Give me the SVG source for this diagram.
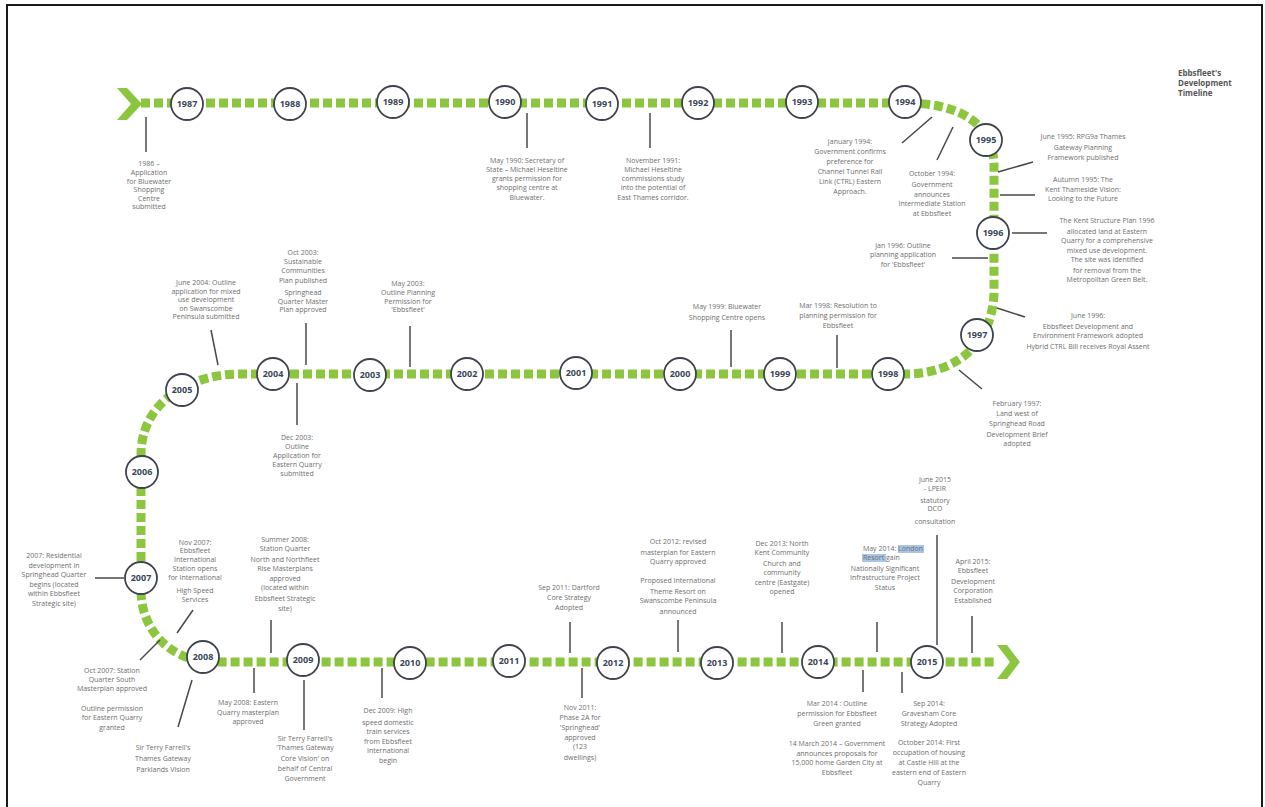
<svg xmlns="http://www.w3.org/2000/svg" width="1265" height="807" viewBox="0 0 1265 807">
<style>
.t{font-family:"Open Sans","Liberation Sans",sans-serif;font-size:7px;fill:#6e6e6e;text-anchor:middle}
.y{font-family:"Open Sans","Liberation Sans",sans-serif;font-size:9px;font-weight:700;fill:#3a4658;text-anchor:middle}
.h{font-family:"Open Sans","Liberation Sans",sans-serif;font-size:8px;font-weight:700;fill:#555}
.c{fill:#fff;stroke:#3e434d;stroke-width:1.8}
.l{stroke:#484848;stroke-width:1.5;fill:none}
.g{fill:#8cc63f}
</style>
<rect x="0" y="0" width="1265" height="807" fill="#fff"/>
<rect x="7" y="5" width="1255" height="830" fill="none" stroke="#1a1a1a" stroke-width="2"/>
<g id="title"><text class="h" x="1178" y="76">Ebbsfleet's</text><text class="h" x="1178" y="86">Development</text><text class="h" x="1178" y="96">Timeline</text></g>
<g id="connectors">
<path d="M 141 103 L 905 103 C 955 103 993 120 994 165 L 994 290 C 994 340 960 374 905 374 L 240 374 C 192 374 141 400 141 455 L 141 590 C 141 630 170 662 215 662 L 997 662" fill="none" stroke="#8cc63f" stroke-width="9" stroke-dasharray="9 4"/>
<polygon class="g" points="117,88 127,88 142,104 127,120 117,120 131,104"/>
<polygon class="g" points="997,645 1007,645 1020,662 1007,679 997,679 1010,662"/>
<line class="l" x1="146" y1="117" x2="146" y2="152"/>
<line class="l" x1="527" y1="113" x2="527" y2="148"/>
<line class="l" x1="650" y1="113" x2="650" y2="148"/>
<line class="l" x1="932" y1="117" x2="902" y2="143"/>
<line class="l" x1="953" y1="127" x2="937" y2="160"/>
<line class="l" x1="998" y1="172" x2="1033" y2="162"/>
<line class="l" x1="1000" y1="195" x2="1035" y2="195"/>
<line class="l" x1="1012" y1="233" x2="1047" y2="233"/>
<line class="l" x1="952" y1="258" x2="988" y2="258"/>
<line class="l" x1="997" y1="308" x2="1025" y2="317"/>
<line class="l" x1="959" y1="370" x2="982" y2="389"/>
<line class="l" x1="837" y1="335" x2="837" y2="368"/>
<line class="l" x1="731" y1="330" x2="731" y2="367"/>
<line class="l" x1="410" y1="326" x2="410" y2="367"/>
<line class="l" x1="306" y1="323" x2="306" y2="365"/>
<line class="l" x1="211" y1="330" x2="218" y2="365"/>
<line class="l" x1="297" y1="383" x2="297" y2="425"/>
<line class="l" x1="95" y1="578" x2="124" y2="578"/>
<line class="l" x1="193" y1="610" x2="177" y2="633"/>
<line class="l" x1="160" y1="640" x2="140" y2="660"/>
<line class="l" x1="192" y1="680" x2="178" y2="727"/>
<line class="l" x1="271" y1="620" x2="271" y2="653"/>
<line class="l" x1="254" y1="668" x2="254" y2="693"/>
<line class="l" x1="304" y1="680" x2="304" y2="730"/>
<line class="l" x1="382" y1="668" x2="382" y2="698"/>
<line class="l" x1="570" y1="622" x2="570" y2="653"/>
<line class="l" x1="582" y1="668" x2="582" y2="698"/>
<line class="l" x1="678" y1="620" x2="678" y2="652"/>
<line class="l" x1="782" y1="622" x2="782" y2="653"/>
<line class="l" x1="877" y1="622" x2="877" y2="652"/>
<line class="l" x1="937" y1="535" x2="937" y2="645"/>
<line class="l" x1="972" y1="616" x2="972" y2="653"/>
<line class="l" x1="863" y1="670" x2="863" y2="692"/>
<line class="l" x1="902" y1="672" x2="902" y2="693"/>
</g>
<g id="y1987"><circle class="c" cx="187" cy="104" r="16"/><text class="y" x="187" y="107">1987</text></g>
<g id="y1988"><circle class="c" cx="290" cy="104" r="16"/><text class="y" x="290" y="107">1988</text></g>
<g id="y1989"><circle class="c" cx="393" cy="102" r="16"/><text class="y" x="393" y="105">1989</text></g>
<g id="y1990"><circle class="c" cx="505" cy="102" r="16"/><text class="y" x="505" y="105">1990</text></g>
<g id="y1991"><circle class="c" cx="602" cy="104" r="16"/><text class="y" x="602" y="107">1991</text></g>
<g id="y1992"><circle class="c" cx="698" cy="103" r="16"/><text class="y" x="698" y="106">1992</text></g>
<g id="y1993"><circle class="c" cx="802" cy="102" r="16"/><text class="y" x="802" y="105">1993</text></g>
<g id="y1994"><circle class="c" cx="905" cy="102" r="16"/><text class="y" x="905" y="105">1994</text></g>
<g id="y1995"><circle class="c" cx="986" cy="140" r="16"/><text class="y" x="986" y="143">1995</text></g>
<g id="y1996"><circle class="c" cx="993" cy="233" r="16"/><text class="y" x="993" y="236">1996</text></g>
<g id="y1997"><circle class="c" cx="977" cy="335" r="16"/><text class="y" x="977" y="338">1997</text></g>
<g id="y1998"><circle class="c" cx="888" cy="374" r="16"/><text class="y" x="888" y="377">1998</text></g>
<g id="y1999"><circle class="c" cx="780" cy="374" r="16"/><text class="y" x="780" y="377">1999</text></g>
<g id="y2000"><circle class="c" cx="680" cy="374" r="16"/><text class="y" x="680" y="377">2000</text></g>
<g id="y2001"><circle class="c" cx="576" cy="373" r="16"/><text class="y" x="576" y="376">2001</text></g>
<g id="y2002"><circle class="c" cx="467" cy="374" r="16"/><text class="y" x="467" y="377">2002</text></g>
<g id="y2003"><circle class="c" cx="370" cy="375" r="16"/><text class="y" x="370" y="378">2003</text></g>
<g id="y2004"><circle class="c" cx="273" cy="374" r="16"/><text class="y" x="273" y="377">2004</text></g>
<g id="y2005"><circle class="c" cx="182" cy="390" r="16"/><text class="y" x="182" y="393">2005</text></g>
<g id="y2006"><circle class="c" cx="142" cy="472" r="16"/><text class="y" x="142" y="475">2006</text></g>
<g id="y2007"><circle class="c" cx="141" cy="578" r="16"/><text class="y" x="141" y="581">2007</text></g>
<g id="y2008"><circle class="c" cx="203" cy="657" r="16"/><text class="y" x="203" y="660">2008</text></g>
<g id="y2009"><circle class="c" cx="303" cy="660" r="16"/><text class="y" x="303" y="663">2009</text></g>
<g id="y2010"><circle class="c" cx="410" cy="663" r="16"/><text class="y" x="410" y="666">2010</text></g>
<g id="y2011"><circle class="c" cx="509" cy="661" r="16"/><text class="y" x="509" y="664">2011</text></g>
<g id="y2012"><circle class="c" cx="613" cy="663" r="16"/><text class="y" x="613" y="666">2012</text></g>
<g id="y2013"><circle class="c" cx="717" cy="663" r="16"/><text class="y" x="717" y="666">2013</text></g>
<g id="y2014"><circle class="c" cx="818" cy="662" r="16"/><text class="y" x="818" y="665">2014</text></g>
<g id="y2015"><circle class="c" cx="927" cy="662" r="16"/><text class="y" x="927" y="665">2015</text></g>
<g id="e1986"><text class="t"><tspan x="149" y="166">1986 –</tspan><tspan x="149" y="175">Application</tspan><tspan x="149" y="183.5">for Bluewater</tspan><tspan x="149" y="192">Shopping</tspan><tspan x="149" y="200.5">Centre</tspan><tspan x="149" y="209">submitted</tspan></text></g>
<g id="e1990"><text class="t"><tspan x="527" y="163">May 1990: Secretary of</tspan><tspan x="527" y="172">State – Michael Heseltine</tspan><tspan x="527" y="181">grants permission for</tspan><tspan x="527" y="190">shopping centre at</tspan><tspan x="527" y="200">Bluewater.</tspan></text></g>
<g id="e1991"><text class="t"><tspan x="653" y="163">November 1991:</tspan><tspan x="653" y="172">Michael Heseltine</tspan><tspan x="653" y="181">commissions study</tspan><tspan x="653" y="190">into the potential of</tspan><tspan x="653" y="200">East Thames corridor.</tspan></text></g>
<g id="e1994a"><text class="t"><tspan x="850" y="144">January 1994:</tspan><tspan x="850" y="154">Government confirms</tspan><tspan x="850" y="164">preference for</tspan><tspan x="850" y="174">Channel Tunnel Rail</tspan><tspan x="850" y="184">Link (CTRL) Eastern</tspan><tspan x="850" y="194">Approach.</tspan></text></g>
<g id="e1994b"><text class="t"><tspan x="932" y="176">October 1994:</tspan><tspan x="932" y="187">Government</tspan><tspan x="932" y="197">announces</tspan><tspan x="932" y="206">Intermediate Station</tspan><tspan x="932" y="216">at Ebbsfleet</tspan></text></g>
<g id="e1995a"><text class="t"><tspan x="1083" y="139">June 1995: RPG9a Thames</tspan><tspan x="1083" y="149.5">Gateway Planning</tspan><tspan x="1083" y="160">Framework published</tspan></text></g>
<g id="e1995b"><text class="t"><tspan x="1083" y="182">Autumn 1995: The</tspan><tspan x="1083" y="191.5">Kent Thameside Vision:</tspan><tspan x="1083" y="201">Looking to the Future</tspan></text></g>
<g id="e1996a"><text class="t"><tspan x="1107" y="223">The Kent Structure Plan 1996</tspan><tspan x="1107" y="233.5">allocated land at Eastern</tspan><tspan x="1107" y="243">Quarry for a comprehensive</tspan><tspan x="1107" y="253">mixed use development.</tspan><tspan x="1107" y="262">The site was identified</tspan><tspan x="1107" y="272.5">for removal from the</tspan><tspan x="1107" y="282">Metropolitan Green Belt.</tspan></text></g>
<g id="e1996b"><text class="t"><tspan x="903" y="248">Jan 1996: Outline</tspan><tspan x="903" y="257">planning application</tspan><tspan x="903" y="267">for 'Ebbsfleet'</tspan></text></g>
<g id="e1996c"><text class="t"><tspan x="1088" y="318">June 1996:</tspan><tspan x="1088" y="328.5">Ebbsfleet Development and</tspan><tspan x="1088" y="338">Environment Framework adopted</tspan><tspan x="1088" y="348.5">Hybrid CTRL Bill receives Royal Assent</tspan></text></g>
<g id="e1997"><text class="t"><tspan x="1017" y="406">February 1997:</tspan><tspan x="1017" y="416">Land west of</tspan><tspan x="1017" y="426">Springhead Road</tspan><tspan x="1017" y="436.5">Development Brief</tspan><tspan x="1017" y="446">adopted</tspan></text></g>
<g id="e1998"><text class="t"><tspan x="838" y="308">Mar 1998: Resolution to</tspan><tspan x="838" y="318">planning permission for</tspan><tspan x="838" y="328">Ebbsfleet</tspan></text></g>
<g id="e1999"><text class="t"><tspan x="727" y="309">May 1999: Bluewater</tspan><tspan x="727" y="319.5">Shopping Centre opens</tspan></text></g>
<g id="e2003a"><text class="t"><tspan x="408" y="286">May 2003:</tspan><tspan x="408" y="295">Outline Planning</tspan><tspan x="408" y="304">Permission for</tspan><tspan x="408" y="312">'Ebbsfleet'</tspan></text></g>
<g id="e2003b"><text class="t"><tspan x="303" y="255">Oct 2003:</tspan><tspan x="303" y="264">Sustainable</tspan><tspan x="303" y="273">Communities</tspan><tspan x="303" y="283">Plan published</tspan><tspan x="303" y="295">Springhead</tspan><tspan x="303" y="304">Quarter Master</tspan><tspan x="303" y="312">Plan approved</tspan></text></g>
<g id="e2004"><text class="t"><tspan x="206" y="285">June 2004: Outline</tspan><tspan x="206" y="293.5">application for mixed</tspan><tspan x="206" y="302">use development</tspan><tspan x="206" y="310.5">on Swanscombe</tspan><tspan x="206" y="319">Peninsula submitted</tspan></text></g>
<g id="e2003c"><text class="t"><tspan x="297" y="440">Dec 2003:</tspan><tspan x="297" y="449">Outline</tspan><tspan x="297" y="458">Application for</tspan><tspan x="297" y="467">Eastern Quarry</tspan><tspan x="297" y="476">submitted</tspan></text></g>
<g id="e2007a"><text class="t"><tspan x="54" y="558">2007: Residential</tspan><tspan x="54" y="567.5">development in</tspan><tspan x="54" y="577">Springhead Quarter</tspan><tspan x="54" y="586.5">begins (located</tspan><tspan x="54" y="596">within Ebbsfleet</tspan><tspan x="54" y="606">Strategic site)</tspan></text></g>
<g id="e2007b"><text class="t"><tspan x="195" y="545">Nov 2007:</tspan><tspan x="195" y="553">Ebbsfleet</tspan><tspan x="195" y="562">International</tspan><tspan x="195" y="571">Station opens</tspan><tspan x="195" y="580">for International</tspan><tspan x="195" y="593">High Speed</tspan><tspan x="195" y="602">Services</tspan></text></g>
<g id="e2008a"><text class="t"><tspan x="285" y="542">Summer 2008:</tspan><tspan x="285" y="551">Station Quarter</tspan><tspan x="285" y="562">North and Northfleet</tspan><tspan x="285" y="571">Rise Masterplans</tspan><tspan x="285" y="581">approved</tspan><tspan x="285" y="590">(located within</tspan><tspan x="285" y="601">Ebbsfleet Strategic</tspan><tspan x="285" y="611">site)</tspan></text></g>
<g id="e2007c"><text class="t"><tspan x="112" y="673">Oct 2007: Station</tspan><tspan x="112" y="682">Quarter South</tspan><tspan x="112" y="691">Masterplan approved</tspan><tspan x="112" y="711">Outline permission</tspan><tspan x="112" y="720">for Eastern Quarry</tspan><tspan x="112" y="730">granted</tspan></text></g>
<g id="e2008b"><text class="t"><tspan x="163" y="750">Sir Terry Farrell's</tspan><tspan x="163" y="761">Thames Gateway</tspan><tspan x="163" y="772">Parklands Vision</tspan></text></g>
<g id="e2008c"><text class="t"><tspan x="248" y="705">May 2008: Eastern</tspan><tspan x="248" y="715">Quarry masterplan</tspan><tspan x="248" y="724">approved</tspan></text></g>
<g id="e2009a"><text class="t"><tspan x="305" y="741">Sir Terry Farrell's</tspan><tspan x="305" y="750">'Thames Gateway</tspan><tspan x="305" y="761">Core Vision' on</tspan><tspan x="305" y="771">behalf of Central</tspan><tspan x="305" y="781">Government</tspan></text></g>
<g id="e2009b"><text class="t"><tspan x="388" y="713">Dec 2009: High</tspan><tspan x="388" y="725">speed domestic</tspan><tspan x="388" y="734">train services</tspan><tspan x="388" y="744">from Ebbsfleet</tspan><tspan x="388" y="753">International</tspan><tspan x="388" y="763">begin</tspan></text></g>
<g id="e2011a"><text class="t"><tspan x="569" y="590">Sep 2011: Dartford</tspan><tspan x="569" y="600">Core Strategy</tspan><tspan x="569" y="610">Adopted</tspan></text></g>
<g id="e2011b"><text class="t"><tspan x="580" y="710">Nov 2011:</tspan><tspan x="580" y="720">Phase 2A for</tspan><tspan x="580" y="730">'Springhead'</tspan><tspan x="580" y="740">approved</tspan><tspan x="580" y="749">(123</tspan><tspan x="580" y="760">dwellings)</tspan></text></g>
<g id="e2012"><text class="t"><tspan x="678" y="544">Oct 2012: revised</tspan><tspan x="678" y="555">masterplan for Eastern</tspan><tspan x="678" y="564">Quarry approved</tspan><tspan x="678" y="583">Proposed International</tspan><tspan x="678" y="594">Theme  Resort on</tspan><tspan x="678" y="603">Swanscombe Peninsula</tspan><tspan x="678" y="614">announced</tspan></text></g>
<g id="e2013"><text class="t"><tspan x="782" y="546">Dec 2013: North</tspan><tspan x="782" y="555">Kent Community</tspan><tspan x="782" y="566">Church and</tspan><tspan x="782" y="575">community</tspan><tspan x="782" y="585">centre (Eastgate)</tspan><tspan x="782" y="594">opened</tspan></text></g>
<g id="e2014a"><rect x="898" y="545" width="26" height="8" fill="#a9c5e6"/><rect x="862" y="554" width="24" height="8" fill="#a9c5e6"/><text class="t" x="923" y="551" style="text-anchor:end">May 2014: London</text><text class="t" x="863" y="560" style="text-anchor:start">Resort gain</text><text class="t"><tspan x="885" y="571">Nationally Significant</tspan><tspan x="885" y="580">Infrastructure Project</tspan><tspan x="885" y="590">Status</tspan></text></g>
<g id="e2015a"><text class="t"><tspan x="935" y="482">June 2015</tspan><tspan x="935" y="491">- LPEIR</tspan><tspan x="935" y="503">statutory</tspan><tspan x="935" y="511">DCO</tspan><tspan x="935" y="524">consultation</tspan></text></g>
<g id="e2015b"><text class="t"><tspan x="973" y="564">April 2015:</tspan><tspan x="973" y="573">Ebbsfleet</tspan><tspan x="973" y="584">Development</tspan><tspan x="973" y="593">Corporation</tspan><tspan x="973" y="603">Established</tspan></text></g>
<g id="e2014b"><text class="t"><tspan x="837" y="706">Mar 2014 : Outline</tspan><tspan x="837" y="716">permission for Ebbsfleet</tspan><tspan x="837" y="726">Green granted</tspan><tspan x="837" y="746">14 March 2014 – Government</tspan><tspan x="837" y="756">announces proposals for</tspan><tspan x="837" y="765">15,000 home Garden City at</tspan><tspan x="837" y="775">Ebbsfleet</tspan></text></g>
<g id="e2014c"><text class="t"><tspan x="929" y="706">Sep 2014:</tspan><tspan x="929" y="716">Gravesham Core</tspan><tspan x="929" y="726">Strategy Adopted</tspan><tspan x="929" y="745">October 2014: First</tspan><tspan x="929" y="755">occupation of housing</tspan><tspan x="929" y="765">at Castle Hill at the</tspan><tspan x="929" y="775">eastern end of Eastern</tspan><tspan x="929" y="785">Quarry</tspan></text></g>
</svg>
